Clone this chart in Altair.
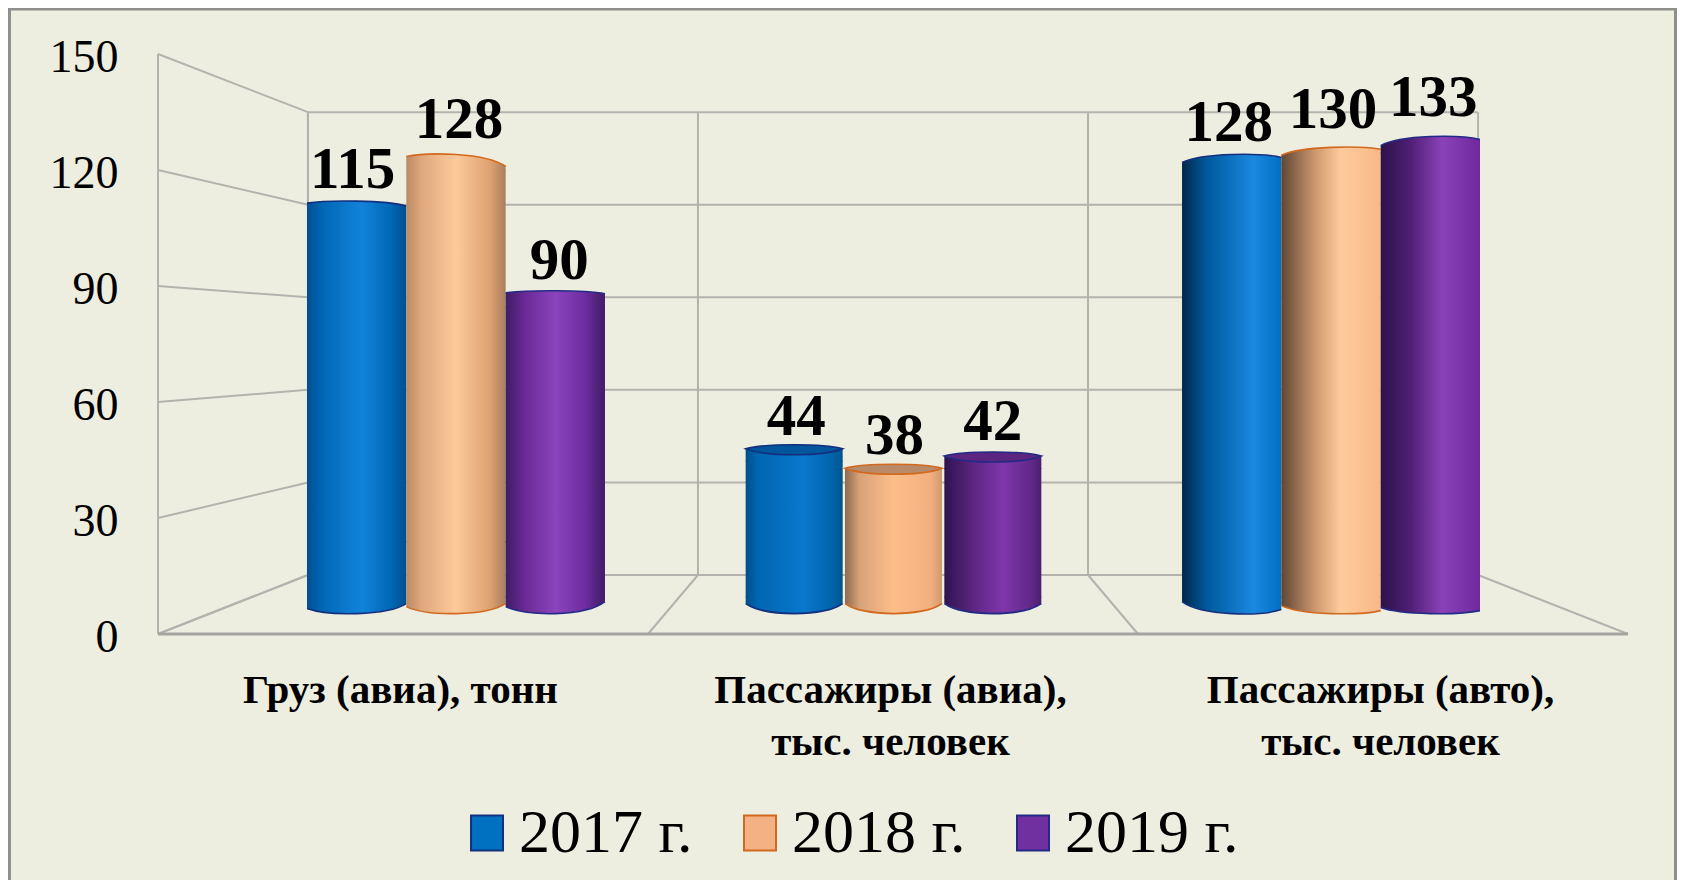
import altair as alt
import pandas as pd

# ---- values
categories = ["Груз (авиа), тонн", "Пассажиры (авиа),|тыс. человек", "Пассажиры (авто),|тыс. человек"]
years = ["2017 г.", "2018 г.", "2019 г."]
v2017 = [115, 44, 128]
v2018 = [128, 38, 130]
v2019 = [90, 42, 133]
y_levels = [0, 30, 60, 90, 120, 150]
floor_ticks = [0, 1, 2, 3]

# ---- styles
BG = "#eeeee0"
GRID = "#b3b3ae"
FONT = "Liberation Serif"
SW = {"2017 г.": "#0070c0", "2018 г.": "#f4b183", "2019 г.": "#7030a0"}
RIM = {"2017 г.": "#12307e", "2018 г.": "#d2691e", "2019 г.": "#232a86"}
CAPFILL = {"2017 г.": "#00569c", "2018 г.": "#b98a68", "2019 г.": "#5c2680"}

GRAD = {
    ("2017 г.", 0): [(0, "#004f90"), (.15, "#0067b4"), (.55, "#1284dc"), (.85, "#0067b4"), (1, "#004f90")],
    ("2018 г.", 0): [(0, "#b98a63"), (.15, "#dfa77b"), (.5, "#fdca9a"), (.85, "#dda070"), (1, "#a87d5c")],
    ("2019 г.", 0): [(0, "#3f1d66"), (.2, "#6b2a96"), (.5, "#8a44bc"), (.8, "#6e2ca0"), (1, "#3f1d66")],
    ("2017 г.", 1): [(0, "#004f8a"), (.12, "#0066b0"), (.6, "#0a78cf"), (.9, "#0063a8"), (1, "#005490")],
    ("2018 г.", 1): [(0, "#8d6a4e"), (.15, "#d8a278"), (.5, "#fdbd89"), (.88, "#f2b080"), (1, "#cf9a70")],
    ("2019 г.", 1): [(0, "#2e1450"), (.3, "#5c2680"), (.6, "#7f36ab"), (.9, "#602888"), (1, "#4a1e70")],
    ("2017 г.", 2): [(0, "#00284a"), (.25, "#005a9c"), (.72, "#1a88e0"), (1, "#0070c4")],
    ("2018 г.", 2): [(0, "#5f4535"), (.35, "#d09a70"), (.6, "#ffcb9c"), (1, "#f8b888")],
    ("2019 г.", 2): [(0, "#2c1248"), (.3, "#501f75"), (.62, "#8a42b8"), (1, "#70289e")],
}
# per bar (group, year): shift of the top, label dy, top left/right drop, bottom left/right rise, label dx, bar dx
GEOM = {
    (0, 0): (0, -13, 2, 5, -5, -10, -4, 0), (0, 1): (0, -17, 2, 12, -7, -10, 3, 0), (0, 2): (0, -12, 2, 3, -7, -12, 4, 0),
    (1, 0): (-11, -21, 4, 4, -10, -10, 2, 2.7), (1, 1): (-13, -23, 4, 4, -10, -10, 1, 0), (1, 2): (-11, -23, 4, 4, -10, -10, 0, -2.7),
    (2, 0): (0, -14, 8, 3, -12, -4, -3, 0), (2, 1): (0, -19, 8, 2, -8, -3, 2, 0), (2, 2): (0, -21, 9, 3, -6, -3, 3, 0),
}
W_GROUP = [99.3, 97.0, 99.3]


def n(px, half):
    return round(px / half, 4)


def curve(a, b, half):
    c = -(a + b) / 6
    return f"M-1,{n(a, half)} C-0.6,{n(c, half)} 0.6,{n(c, half)} 1,{n(b, half)}"


rows = []
for g, cat in enumerate(categories):
    for s, (yr, vals) in enumerate(zip(years, [v2017, v2018, v2019])):
        rows.append({"id": g * 3 + s, "g": g, "s": s, "cat": cat, "year": yr, "value": vals[g], "base": 0})
df = pd.DataFrame(rows)

x_scale = alt.Scale(domain=categories, range=[229.25, 1541.75], paddingInner=0.3189, paddingOuter=0.1594)
xo_scale = alt.Scale(domain=years)
yb_scale = alt.Scale(domain=[0, 150], range=[605.6, 67.6])
X = alt.X("cat:N", scale=x_scale, axis=None)
XO = alt.XOffset("year:N", scale=xo_scale)
Y = alt.Y("value:Q", scale=yb_scale, axis=None)
YBASE = alt.Y("base:Q", scale=yb_scale, axis=None)

TOP_BODY = 16
BOT_BODY = 16

bar_layers = []
# legend carrier, hidden behind the cylinders
bar_layers.append(
    alt.Chart(df).transform_filter("datum.g == 0").mark_bar(strokeWidth=2).encode(
        x=X, xOffset=XO,
        y=alt.Y("datum_lo:Q", scale=yb_scale, axis=None),
        y2=alt.Y2("datum_lo2:Q"),
        color=alt.Color("year:N", scale=alt.Scale(domain=years, range=[SW[y] for y in years]),
                        legend=alt.Legend(
                            orient="none", legendX=448, legendY=790, direction="horizontal", title=None,
                            symbolType="M-1,-1.1H1V1.1H-1Z", symbolSize=1024, symbolStrokeWidth=2,
                            symbolOpacity=1, labelFont=FONT, labelFontSize=62, labelColor="black",
                            labelLimit=400, labelOffset=1, columnPadding=36, clipHeight=70,
                        )),
        stroke=alt.Stroke("year:N", scale=alt.Scale(domain=years, range=[RIM[y] for y in years]), legend=None),
    ).transform_calculate(datum_lo="20", datum_lo2="20")
)

for row in rows:
    i, g, yr = row["id"], row["g"], row["year"]
    shift, dy, a, b, l, r, ldx, bdx = GEOM[(g, row["s"])]
    W = W_GROUP[g]
    half = W / 2
    size = W ** 2
    grad = alt.Gradient(gradient="linear", x1=0, x2=1, y1=0, y2=0,
                        stops=[alt.GradientStop(offset=o, color=c) for o, c in GRAD[(yr, g)]])
    base = alt.Chart(df).transform_filter(f"datum.id == {i}")
    # cylinder wall
    bar_layers.append(base.mark_bar(fill=grad, width=W, xOffset=bdx, yOffset=shift + TOP_BODY, y2Offset=-BOT_BODY,
                                    stroke=None).encode(x=X, xOffset=XO, y=Y, y2=alt.Y2("base:Q")))
    # bottom curve, filled
    bottom_shape = curve(l, r, half)
    bar_layers.append(base.mark_point(
        shape=bottom_shape + f" L1,{n(-BOT_BODY - 1, half)} L-1,{n(-BOT_BODY - 1, half)} Z",
        size=size, filled=True, fill=grad, opacity=1, strokeWidth=0, xOffset=bdx).encode(x=X, xOffset=XO, y=YBASE))
    bar_layers.append(base.mark_point(
        shape=bottom_shape, size=size, filled=False, stroke=RIM[yr], strokeWidth=1.6, opacity=1, xOffset=bdx,
        fill="transparent").encode(x=X, xOffset=XO, y=YBASE))
    # top curve, filled
    top_shape = curve(a, b, half)
    bar_layers.append(base.mark_point(
        shape=top_shape + f" L1,{n(TOP_BODY + 1, half)} L-1,{n(TOP_BODY + 1, half)} Z",
        size=size, filled=True, fill=grad, opacity=1, strokeWidth=0, xOffset=bdx, yOffset=shift
    ).encode(x=X, xOffset=XO, y=Y))
    if g == 1:
        # short cylinders: the lid is seen as a darker ellipse
        lid_path = top_shape + f" C0.6,{n(12, half)} -0.6,{n(12, half)} -1,{n(a, half)} Z"
        bar_layers.append(base.mark_point(
            shape=lid_path, size=size, filled=True, fill=CAPFILL[yr], stroke=RIM[yr], strokeWidth=1.6, opacity=1,
            xOffset=bdx, yOffset=shift).encode(x=X, xOffset=XO, y=Y))
    else:
        bar_layers.append(base.mark_point(
            shape=top_shape, size=size, filled=False, fill="transparent", stroke=RIM[yr], strokeWidth=1.6, opacity=1,
            xOffset=bdx, yOffset=shift).encode(x=X, xOffset=XO, y=Y))

for row in rows:
    shift, dy, a, b, l, r, ldx, bdx = GEOM[(row["g"], row["s"])]
    bar_layers.append(alt.Chart(df).transform_filter(f"datum.id == {row['id']}").mark_text(
        font=FONT, fontWeight="bold", fontSize=59, color="black", baseline="alphabetic", dx=ldx, dy=dy).encode(
        x=X, xOffset=XO, y=Y, text="value:Q"))

bars = alt.layer(*bar_layers)

# ---- 3D box: a front plane and a back plane of the same scales
K = 0.796
wall_x = alt.Scale(domain=[0, 3], range=[150, 1620])
wall_y = alt.Scale(domain=[0, 150], range=[626, 46])


def project(tick, depth, level):
    xv = tick if depth == 0 else 1.5 + (tick - 1.5) * K
    yv = level if depth == 0 else 15.26 + level * 0.798
    return xv, yv


lines = []
lid = 0


def seg(p, q, kind):
    global lid
    for pt in (p, q):
        xv, yv = project(*pt)
        lines.append({"lid": lid, "xv": xv, "yv": yv, "kind": kind})
    lid += 1


for lv in y_levels:
    seg((0, 0, lv), (0, 1, lv), "grid")
    seg((0, 1, lv), (3, 1, lv), "grid")
seg((0, 1, 0), (0, 1, 150), "grid")
for t in floor_ticks:
    seg((t, 1, 0), (t, 1, 150), "grid")
    seg((t, 0, 0), (t, 1, 0), "grid")
seg((0, 0, 0), (0, 0, 150), "grid")
seg((0, 0, 0), (3, 0, 0), "base")
lines_df = pd.DataFrame(lines)

walls = alt.Chart(lines_df).transform_filter("datum.kind == 'grid'").mark_line(color=GRID, strokeWidth=2).encode(
    x=alt.X("xv:Q", scale=wall_x, axis=None),
    y=alt.Y("yv:Q", scale=wall_y, axis=alt.Axis(
        values=y_levels, domain=False, ticks=False, grid=False, title=None, orient="left", offset=-110,
        labelPadding=0, labelFont=FONT, labelFontSize=46, labelColor="black", labelBaseline="middle",
        labelOffset=3)),
    detail="lid:N",
)
base_line = alt.Chart(lines_df).transform_filter("datum.kind == 'base'").mark_line(color="#a3a3a0", strokeWidth=3).encode(
    x=alt.X("xv:Q", scale=wall_x, axis=None),
    y=alt.Y("yv:Q", scale=wall_y, axis=None),
    detail="lid:N",
)

# ---- category labels sit under the front edge of the floor
cat_df = pd.DataFrame({"cat": categories})
cat_axis = alt.Chart(cat_df).mark_text(text="", opacity=0).encode(
    x=alt.X("cat:N", scale=alt.Scale(domain=categories, range=[147, 1617]), sort=categories, axis=alt.Axis(
        orient="bottom", offset=-210, domain=False, ticks=False, grid=False, title=None, labelAngle=0,
        labelPadding=0, labelFont=FONT, labelFontWeight="bold", labelFontSize=41, labelColor="black",
        labelLimit=700, labelBaseline="top", labelLineHeight=52, labelOverlap=False,
        labelExpr="split(datum.label, '|')")),
)

# ---- outer frame
one = pd.DataFrame({"a": [0]})
frame = alt.layer(
    alt.Chart(one).mark_rule(color="#8f8f8c", strokeWidth=3).encode(x=alt.value(1.5), y=alt.value(0), y2=alt.value(872)),
    alt.Chart(one).mark_rule(color="#8f8f8c", strokeWidth=3).encode(x=alt.value(1667.5), y=alt.value(0), y2=alt.value(872)),
    alt.Chart(one).mark_rule(color="#8f8f8c", strokeWidth=3).encode(x=alt.value(0), x2=alt.value(1669), y=alt.value(1)),
)

chart = alt.layer(frame, walls, base_line, cat_axis, bars).resolve_scale(
    x="independent", y="independent", color="independent", stroke="independent"
).properties(
    width=1669, height=872, background=BG, padding=0,
    autosize=alt.AutoSizeParams(type="none"),
).configure_view(stroke=None)

chart.save("out.html", embed_options={"renderer": "svg", "actions": False})
